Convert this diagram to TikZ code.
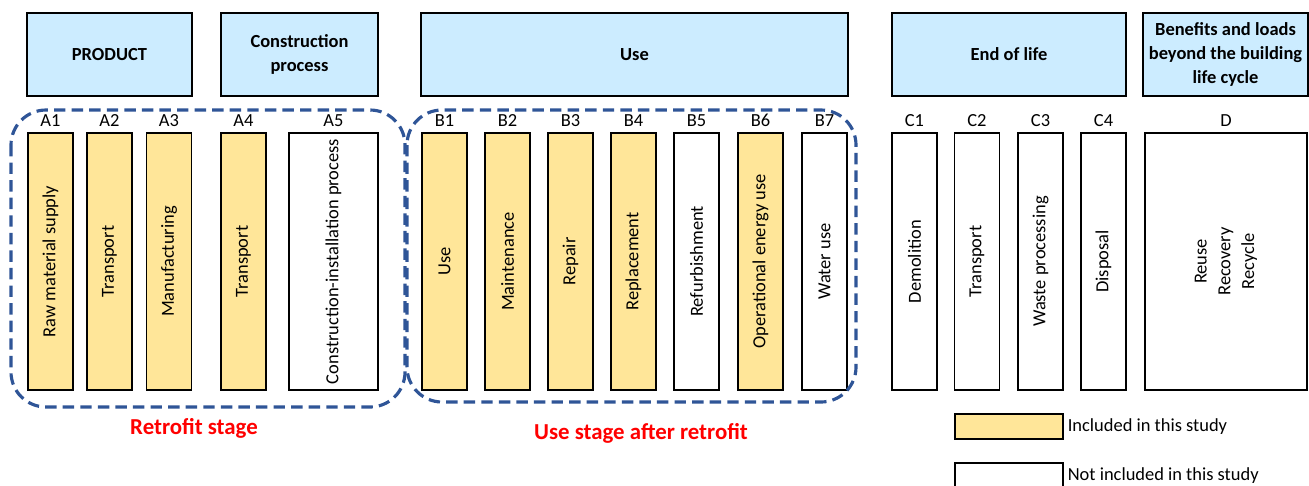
\documentclass[tikz,border=0pt]{standalone}
\usepackage{fontspec}
\setmainfont{Carlito}
\usepackage{tikz}
\usetikzlibrary{positioning}
\definecolor{stageblue}{HTML}{CCECFF}
\definecolor{inclyellow}{HTML}{FFE699}
\definecolor{groupblue}{HTML}{2F5597}
\definecolor{labelred}{HTML}{FF0000}

\begin{document}
\begin{tikzpicture}[x=0.02cm,y=-0.02cm,
  headbox/.style={draw=black,line width=1.1pt,fill=stageblue,align=center,
    minimum height=1.66cm,font=\fontsize{10.5}{13.5}\selectfont\bfseries},
  modbox/.style={draw=black,line width=1.1pt,fill=white,rotate=90,
    minimum width=5.14cm,minimum height=0.9cm,align=center,
    font=\fontsize{10.5}{13.5}\selectfont},
  modincl/.style={modbox,fill=inclyellow},
  modlabel/.style={font=\fontsize{10.5}{13}\selectfont,inner sep=3pt},
  groupline/.style={groupblue,line width=1.8pt,dash pattern=on 6.5pt off 3.5pt,
    rounded corners=0.7cm},
  groupcaption/.style={text=labelred,font=\fontsize{13}{15}\selectfont\bfseries},
  keybox/.style={draw=black,line width=1.1pt,minimum width=2.16cm,minimum height=0.5cm},
  keytext/.style={font=\fontsize{10.5}{13}\selectfont,inner sep=1pt}
]
  \useasboundingbox (0,0) rectangle (1309,485);

  % life cycle stages
  \node[headbox,minimum width=3.3cm] (product) at (109.5,54.5) {PRODUCT};
  \node[headbox,minimum width=3.14cm] (construction) at (299.5,54.5) {Construction\\process};
  \node[headbox,minimum width=8.54cm] (use) at (634.5,54.5) {Use};
  \node[headbox,minimum width=4.68cm] (endlife) at (1009,54.5) {End of life};
  \node[headbox,minimum width=3.24cm] (beyond) at (1225.5,54.5)
    {Benefits and loads\\beyond the building\\life cycle};

  % modules A
  \node[modincl] (a1) at (50.5,261.5) {Raw material supply};
  \node[modincl] (a2) at (109.5,261.5) {Transport};
  \node[modincl] (a3) at (169,261.5) {Manufacturing};
  \node[modincl] (a4) at (243.5,261.5) {Transport};
  \node[modbox,minimum height=1.78cm] (a5) at (333.5,261.5) {Construction-installation process};

  % modules B
  \node[modincl] (b1) at (444.5,261.5) {Use};
  \node[modincl] (b2) at (507.5,261.5) {Maintenance};
  \node[modincl] (b3) at (570.5,261.5) {Repair};
  \node[modincl] (b4) at (633.5,261.5) {Replacement};
  \node[modbox] (b5) at (696.5,261.5) {Refurbishment};
  \node[modincl] (b6) at (760.5,261.5) {Operational energy use};
  \node[modbox] (b7) at (824.5,261.5) {Water use};

  % modules C and D
  \node[modbox] (c1) at (914.5,261.5) {Demolition};
  \node[modbox] (c2) at (977,261.5) {Transport};
  \node[modbox] (c3) at (1040.5,261.5) {Waste processing};
  \node[modbox] (c4) at (1103.5,261.5) {Disposal};
  \node[modbox,minimum height=3.24cm] (d) at (1226,261.5) {Reuse\\Recovery\\Recycle};

  % module codes
  \node[modlabel,above=0pt of a1.east] (la1) {A1};
  \node[modlabel,above=0pt of a2.east] (la2) {A2};
  \node[modlabel,above=0pt of a3.east] (la3) {A3};
  \node[modlabel,above=0pt of a4.east] (la4) {A4};
  \node[modlabel,above=0pt of a5.east] (la5) {A5};
  \node[modlabel,above=0pt of b1.east] (lb1) {B1};
  \node[modlabel,above=0pt of b2.east] (lb2) {B2};
  \node[modlabel,above=0pt of b3.east] (lb3) {B3};
  \node[modlabel,above=0pt of b4.east] (lb4) {B4};
  \node[modlabel,above=0pt of b5.east] (lb5) {B5};
  \node[modlabel,above=0pt of b6.east] (lb6) {B6};
  \node[modlabel,above=0pt of b7.east] (lb7) {B7};
  \node[modlabel,above=0pt of c1.east] (lc1) {C1};
  \node[modlabel,above=0pt of c2.east] (lc2) {C2};
  \node[modlabel,above=0pt of c3.east] (lc3) {C3};
  \node[modlabel,above=0pt of c4.east] (lc4) {C4};
  \node[modlabel,above=0pt of d.east] (ld) {D};

  % system boundaries
  \draw[groupline] (11,110) rectangle (405,407);
  \draw[groupline] (407,110) rectangle (856,402);
  \node[groupcaption] (retrofit) at (194,428) {Retrofit stage};
  \node[groupcaption] (afteruse) at (641,433) {Use stage after retrofit};

  % key
  \node[keybox,fill=inclyellow] (keyin) at (1009,426.5) {};
  \node[keytext,right=1pt of keyin] (keyintext) {Included in this study};
  \node[keybox,fill=white] (keyout) at (1009,475.5) {};
  \node[keytext,right=1pt of keyout] (keyouttext) {Not included in this study};
\end{tikzpicture}
\end{document}
